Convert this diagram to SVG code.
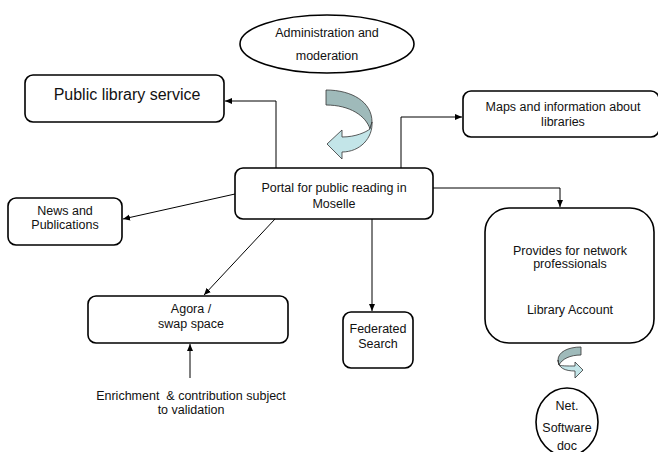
<svg xmlns="http://www.w3.org/2000/svg" width="658" height="452" viewBox="0 0 658 452">
<style>
.box{fill:#fff;stroke:#000;stroke-width:1.6}
.t{font-family:"Liberation Sans",Arial,sans-serif;font-size:12.5px;fill:#111;text-anchor:middle}
.big{font-size:16px}
.con{fill:none;stroke:#000;stroke-width:1}
.dark{fill:#9fbaba;stroke:#333;stroke-width:0.8}
.light{fill:#c3e5e8;stroke:#333;stroke-width:0.8}
</style>
<defs>
<marker id="ah" markerWidth="8" markerHeight="8" refX="7" refY="4" orient="auto" markerUnits="userSpaceOnUse">
<path d="M0,1 L7,4 L0,7 Z" fill="#000"/>
</marker>
</defs>
<rect width="658" height="452" fill="#fff"/>
<g id="connectors">
<path class="con" d="M276,168 V101 H225" marker-end="url(#ah)"/>
<path class="con" d="M401,168 V117 H462" marker-end="url(#ah)"/>
<path class="con" d="M433,188 H560 V207" marker-end="url(#ah)"/>
<path class="con" d="M235,194 L123,219" marker-end="url(#ah)"/>
<path class="con" d="M275,219 L204,295" marker-end="url(#ah)"/>
<path class="con" d="M372,219 V311" marker-end="url(#ah)" stroke="#444"/>
<path class="con" d="M190,378 V344" marker-end="url(#ah)"/>
</g>
<g id="admin">
<ellipse class="box" cx="327" cy="44" rx="87" ry="29"/>
<text class="t" x="327" y="37">Administration and</text>
<text class="t" x="327" y="60">moderation</text>
</g>
<g id="admin-arrow">
<path class="dark" d="M326,90 C352,90 372,102 372,122 L370,129 C366,116 350,105 326,105 Z"/>
<path class="light" d="M372,122 C373,138 360,152 342,152 L342,159 L327,144 L342,130 L342,137 C356,137 366,132 370,129 Z"/>
</g>
<g id="public-library">
<rect class="box" x="25" y="75" width="199" height="47" rx="8"/>
<text class="t big" x="127" y="100">Public library service</text>
</g>
<g id="maps">
<rect class="box" x="463" y="91" width="196" height="46" rx="8"/>
<text class="t" x="563" y="111">Maps and information about</text>
<text class="t" x="563" y="126">libraries</text>
</g>
<g id="portal">
<rect class="box" x="235" y="168" width="198" height="51" rx="8"/>
<text class="t" x="334" y="192">Portal for public reading in</text>
<text class="t" x="334" y="208">Moselle</text>
</g>
<g id="news">
<rect class="box" x="8" y="198" width="114" height="47" rx="8"/>
<text class="t" x="65" y="215">News and</text>
<text class="t" x="65" y="229">Publications</text>
</g>
<g id="provides">
<rect class="box" x="485" y="208" width="169" height="135" rx="24"/>
<text class="t" x="570" y="255">Provides for network</text>
<text class="t" x="570" y="268">professionals</text>
<text class="t" x="570" y="314">Library Account</text>
</g>
<g id="net-arrow">
<path class="dark" d="M581,347 L581,355 C570,355 562,359 559,365 L558,360 C558,352 568,347 581,347 Z"/>
<path class="light" d="M558,360 C558,368 565,371 575,371 L575,378 L583,370 L575,362 L575,366 C567,366 561,366 559,365 Z"/>
</g>
<g id="net">
<ellipse class="box" cx="567" cy="422" rx="31" ry="34"/>
<text class="t" x="567" y="410">Net.</text>
<text class="t" x="567" y="432">Software</text>
<text class="t" x="567" y="450">doc</text>
</g>
<g id="agora">
<rect class="box" x="88" y="296" width="200" height="47" rx="8"/>
<text class="t" x="191" y="313">Agora /</text>
<text class="t" x="191" y="328">swap space</text>
</g>
<g id="federated">
<rect class="box" x="343" y="312" width="70" height="56" rx="8"/>
<text class="t" x="378" y="333">Federated</text>
<text class="t" x="378" y="348">Search</text>
</g>
<g id="enrichment">
<text class="t" x="191" y="400" xml:space="preserve">Enrichment  &amp; contribution subject</text>
<text class="t" x="191" y="414">to validation</text>
</g>
</svg>
